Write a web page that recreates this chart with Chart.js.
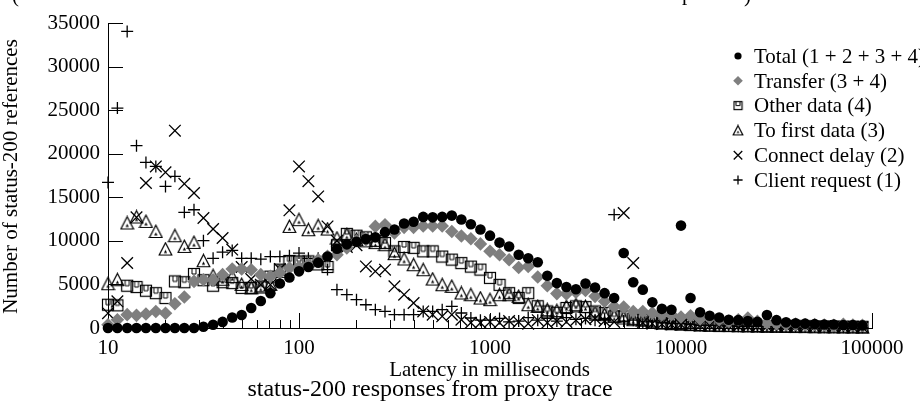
<!DOCTYPE html>
<html><head><meta charset="utf-8">
<script src="https://cdn.jsdelivr.net/npm/chart.js@4.4.1/dist/chart.umd.min.js"></script>
<style>html,body{margin:0;padding:0;background:#fff}</style>
</head><body>
<canvas id="c" width="920" height="406" style="display:block;width:920px;height:406px"></canvas>
<script>
// ---- data ----
const latency = [10,11.2,12.6,14.1,15.8,17.8,20,22.4,25.1,28.2,31.6,35.5,39.8,44.7,50.1,56.2,63.1,70.8,79.4,89.1,
  100,112,126,141,158,178,200,224,251,282,316,355,398,447,501,562,631,708,794,891,
  1000,1122,1259,1413,1585,1778,1995,2239,2512,2818,3162,3548,3981,4467,5012,5623,6310,7079,7943,8913,
  10000,11220,12590,14130,15850,17780,19950,22390,25120,28180,31620,35480,39810,44670,50120,56230,63100,70790,79430,89130];

const seriesNames = ["Total (1 + 2 + 3 + 4)","Transfer (3 + 4)","Other data (4)","To first data (3)","Connect delay (2)","Client request (1)"];

const total = [0,0,0,0,0,0,0,0,0,0, 150,380,700,1200,1500,2300,3100,4000,5100,5800,
  6500,7000,7500,8200,9100,9600,9900,10200,10400,11000, 11300,12000,12200,12750,12700,12750,12900,12450,11900,11300,
  10600,9800,9350,8400,8000,7550,6000,5150,4700,4450, 5100,4650,4000,3450,8600,5250,4400,2950,2200,2100,
  11750,3450,1800,1400,1200,950,900,800,700,1500, 900,650,550,500,450,400,400,350,350,300];

const transfer = [380,950,1530,1450,1600,1900,1700,2790,3560,5350, 5540,5540,6120,6770,6770,6690,6120,5920,6350,6880,
  7000,7260,7840,8220,8410,9180,10020,10130,11660,11850, 10900,11550,11550,11700,11700,11700,11080,10550,10250,9650,
  8800,8410,7840,6950,7070,5850,4850,3950,3900,4100, 4300,3630,3060,2480,2400,1900,1900,1720,1530,1530,
  1260,1410,1030,1140,950,760,950,1140,760,570, 500,420,450,380,400,350,300,420,350,320];

const otherData = [2670,2600,4850,4700,4280,4000,3440,5350,5250,6200, 5480,4850,5250,5150,4600,4600,4780,5900,6700,7640,
  7640,7640,7300,7000,9500,10800,10600,10400,10000,9750, 8800,9300,9200,8800,8800,8200,7850,7450,7050,6700,
  5750,4950,4000,3450,4000,2500,1900,1750,2300,2480, 2400,1900,1720,1340,1340,1050,950,760,570,500,
  450,400,350,300,280,260,250,240,230,220, 210,200,190,180,170,160,160,150,150,140];

const firstData = [5080,5540,12050,12740,12230,11080,9060,10590,9360,9820, 7720,6000,5600,5900,5000,4600,4700,5000,6500,11660,
  12430,11280,11740,11360,10320,10700,10130,10000,9800,9560, 8530,7920,7260,6690,5620,4970,4780,4020,3820,3440,
  3250,3820,3820,3630,2670,2480,2100,2000,2480,2670, 2480,1720,1530,1340,1150,950,900,700,570,500,
  450,400,350,320,300,280,260,240,220,200, 190,180,170,160,150,140,130,120,110,100];

const connectDelay = [1700,3060,7460,12700,16640,18540,17860,22640,16540,15490, 12620,11360,10330,9000,7000,5620,4970,4970,6770,13500,
  18540,16850,15100,11660,10000,9300,9500,7070,6500,6690, 4780,3820,2870,1900,1530,1340,1530,950,600,600,
  700,600,800,700,500,900,600,800,700,900, 1000,1100,800,700,13200,7460,600,500,450,400,
  400,350,300,300,250,250,200,200,180,160, 150,140,130,120,110,100,100,90,80,80];

const clientRequest = [16700,25240,34030,20920,19000,18540,16250,17400,13270,13570, 10020,8000,8700,8900,8000,8000,7900,8200,8200,8300,
  8600,8000,8000,6700,4400,3820,3250,2670,2100,1900, 1530,1530,1530,1900,1900,2100,2480,1720,1150,900,
  900,1100,700,800,1200,900,1100,800,1200,1000, 1100,900,1000,13000,800,900,700,800,600,500,
  500,400,300,300,250,250,200,200,180,160, 150,140,130,120,110,100,100,90,80,80];

const yTicks = [0,5000,10000,15000,20000,25000,30000,35000];
const xTickLabels = [10,100,1000,10000,100000];
const xMinorTicks = [20,30,40,50,60,70,80,90,200,300,400,500,600,700,800,900,
  2000,3000,4000,5000,6000,7000,8000,9000,20000,30000,40000,50000,60000,70000,80000,90000];

// ---- custom markers ----
function squareMarker(s){
  const c=document.createElement('canvas'); c.width=s+2; c.height=s+2;
  const g=c.getContext('2d'); g.strokeStyle='#000'; g.lineWidth=1.2;
  g.strokeRect(1.5,1.5,s-1,s-1);
  const m=(s+2)/2;
  g.lineWidth=1;
  g.beginPath(); g.moveTo(m-2,1.5); g.lineTo(m-2,m); g.lineTo(m+2,m); g.lineTo(m+2,1.5); g.stroke();
  return c;
}
function triMarker(s){
  const c=document.createElement('canvas'); c.width=s+2; c.height=s+2;
  const g=c.getContext('2d'); g.strokeStyle='#000'; g.fillStyle='#000'; g.lineWidth=1.2;
  const w=s+2;
  g.beginPath(); g.moveTo(w/2,1.2); g.lineTo(w-1.2,w-1.5); g.lineTo(1.2,w-1.5); g.closePath(); g.stroke();
  g.beginPath(); g.moveTo(w/2,w*0.55); g.lineTo(w/2+1.6,w-3.5); g.lineTo(w/2-1.6,w-3.5); g.closePath(); g.fill();
  return c;
}
const sqBig = squareMarker(12), sqSmall = squareMarker(9);
const triBig = triMarker(13), triSmall = triMarker(10);

const seriesValues = [total, transfer, otherData, firstData, connectDelay, clientRequest];
const styles = [
  {pointStyle:'circle', radius:5.3, bg:'#000', bd:'#000', bw:0, lg:{pointStyle:'circle', radius:3.6}},
  {pointStyle:'rectRot', radius:6.8, bg:'#7f7f7f', bd:'#7f7f7f', bw:0, lg:{pointStyle:'rectRot', radius:4.8}},
  {pointStyle:sqBig, radius:6, bg:'#000', bd:'#000', bw:1, lg:{pointStyle:sqSmall, radius:4}},
  {pointStyle:triBig, radius:6, bg:'#000', bd:'#000', bw:1, lg:{pointStyle:triSmall, radius:4}},
  {pointStyle:'crossRot', radius:8.2, bg:'#000', bd:'#000', bw:1.3, lg:{pointStyle:'crossRot', radius:6}},
  {pointStyle:'cross', radius:6, bg:'#000', bd:'#000', bw:1.3, lg:{pointStyle:'cross', radius:4.6}}
];

const datasets = seriesNames.map((name,k)=>({
  label:name,
  data: latency.map((x,i)=>({x:x, y:seriesValues[k][i]})),
  showLine:false,
  pointStyle:styles[k].pointStyle,
  pointRadius:styles[k].radius,
  backgroundColor:styles[k].bg,
  borderColor:styles[k].bd,
  pointBorderWidth:styles[k].bw,
  clip:false,
  order:k
}));

const FONT = "'Liberation Serif', 'Times New Roman', serif";

const decor = {
  id:'decor',
  beforeDatasetsDraw(chart){
    const ctx=chart.ctx, xs=chart.scales.x, ys=chart.scales.y;
    const base=ys.getPixelForValue(0), left=xs.getPixelForValue(10);
    ctx.save(); ctx.strokeStyle='#000'; ctx.lineWidth=1;
    ctx.beginPath();
    xTickLabels.forEach(v=>{const px=Math.round(xs.getPixelForValue(v))+0.5; ctx.moveTo(px,base); ctx.lineTo(px,base-15);});
    xMinorTicks.forEach(v=>{const px=Math.round(xs.getPixelForValue(v))+0.5; ctx.moveTo(px,base); ctx.lineTo(px,base-8);});
    yTicks.forEach(v=>{const py=Math.round(ys.getPixelForValue(v))+0.5; ctx.moveTo(left,py); ctx.lineTo(left+15,py);});
    ctx.stroke(); ctx.restore();
  },
  afterDraw(chart){
    const ctx=chart.ctx;
    ctx.save();
    ctx.fillStyle='#000'; ctx.font='21px '+FONT;
    // legend
    ctx.textAlign='left'; ctx.textBaseline='alphabetic';
    seriesNames.forEach((name,k)=>{
      const cy=56+k*24.8;
      ctx.fillStyle=styles[k].bg; ctx.strokeStyle=styles[k].bd; ctx.lineWidth=styles[k].bw||1;
      Chart.helpers.drawPoint(ctx,{pointStyle:styles[k].lg.pointStyle, radius:styles[k].lg.radius, rotation:0, borderWidth:styles[k].bw},738,cy);
      ctx.fillStyle='#000';
      ctx.fillText(name,754,cy+6.7);
    });
    // titles
    ctx.textAlign='center';
    ctx.fillText('Latency in milliseconds',489.5,375.5);
    ctx.font='24px '+FONT;
    ctx.fillText('status-200 responses from proxy trace',430,396);
    ctx.font='21px '+FONT;
    ctx.save(); ctx.translate(11,176.5); ctx.rotate(-Math.PI/2);
    ctx.textBaseline='middle'; ctx.fillText('Number of status-200 references',0,0); ctx.restore();
    // clipped top caption remnants
    ctx.textAlign='left'; ctx.textBaseline='alphabetic';
    ctx.fillText('(',12,2); ctx.fillText('p',682,0); ctx.fillText(')',744,2);
    ctx.restore();
  }
};

Chart.defaults.font.family = FONT;
Chart.defaults.font.size = 21;
Chart.defaults.color = '#000';

new Chart(document.getElementById('c'),{
  type:'scatter',
  data:{datasets},
  plugins:[decor],
  options:{
    responsive:false, animation:false, events:[], devicePixelRatio:1,
    layout:{autoPadding:false, padding:{top:23, right:48, left:0, bottom:0}},
    plugins:{legend:{display:false}, tooltip:{enabled:false}, title:{display:false}},
    scales:{
      x:{type:'logarithmic', min:10, max:100000,
        afterFit(s){s.height=78;},
        afterBuildTicks(s){s.ticks=xTickLabels.map(v=>({value:v}));},
        grid:{drawOnChartArea:false, drawTicks:false},
        border:{display:true, color:'#000', width:1},
        ticks:{autoSkip:false, maxRotation:0, padding:8, callback:v=>String(v), font:{size:21}}
      },
      y:{type:'linear', min:0, max:35000,
        afterFit(s){s.width=108;},
        afterBuildTicks(s){s.ticks=yTicks.map(v=>({value:v}));},
        grid:{drawOnChartArea:false, drawTicks:false},
        border:{display:true, color:'#000', width:1},
        ticks:{padding:8, callback:v=>String(v), font:{size:21}}
      }
    }
  }
});
</script>
</body></html>
